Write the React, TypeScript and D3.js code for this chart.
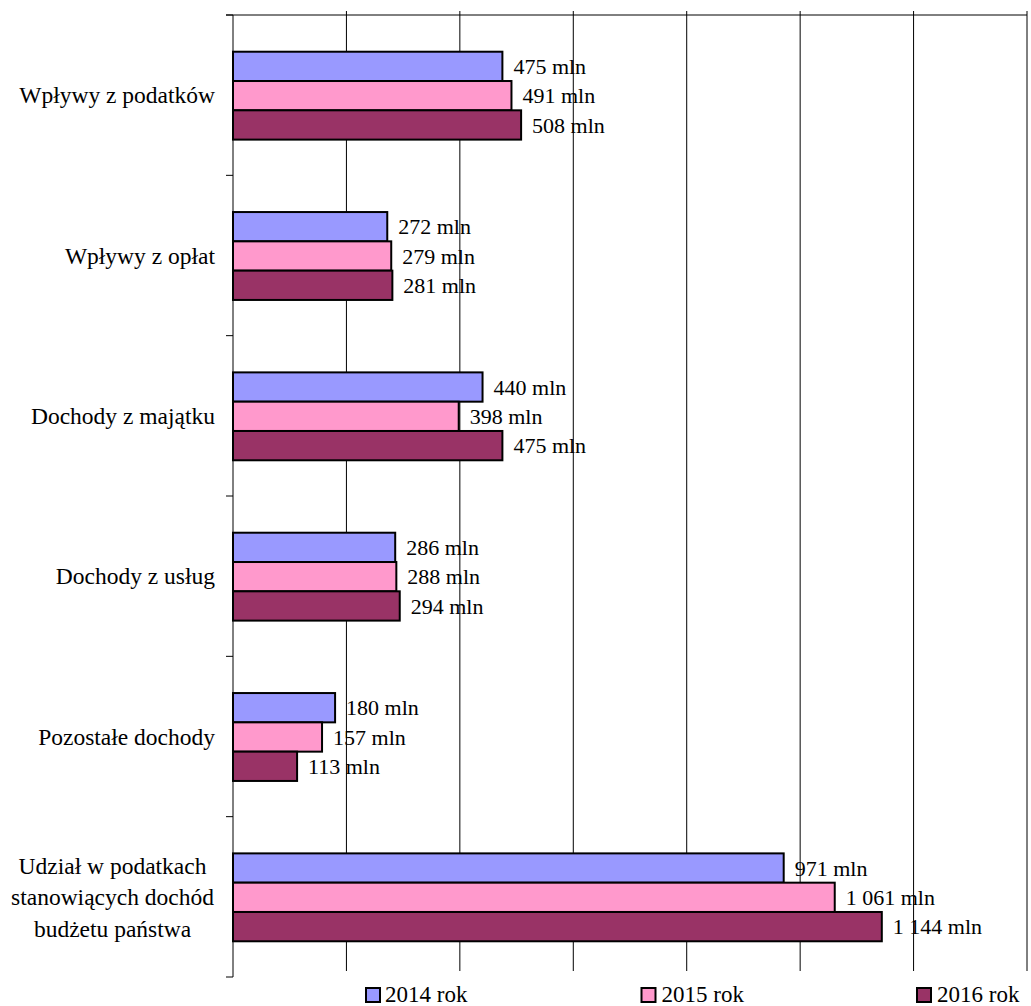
import React, { useEffect, useRef } from "react";
import * as d3 from "d3";

const categories = [
  "Wpływy z podatków",
  "Wpływy z opłat",
  "Dochody z majątku",
  "Dochody z usług",
  "Pozostałe dochody",
  "Udział w podatkach\nstanowiących dochód\nbudżetu państwa",
];
const series = ["2014 rok", "2015 rok", "2016 rok"];
const values2014 = [475, 272, 440, 286, 180, 971];
const values2015 = [491, 279, 398, 288, 157, 1061];
const values2016 = [508, 281, 475, 294, 113, 1144];
const colors = ["#9999ff", "#ff99cc", "#993366"];
const gridTicks = [200, 400, 600, 800, 1000, 1200, 1400];

const fmt = (v: number) => {
  const s = String(v);
  return (s.length > 3 ? s.slice(0, s.length - 3) + " " + s.slice(-3) : s) + " mln";
};

const W = 1031;
const H = 1006;
const font = '"Liberation Serif", "Times New Roman", Times, "DejaVu Serif", serif';

export default function App() {
  const ref = useRef<SVGSVGElement>(null);

  useEffect(() => {
    const svg = d3.select(ref.current);
    svg.selectAll("*").remove();

    const left = 233;
    const right = 1027;
    const top = 15;
    const bottom = 977;

    const x = d3.scaleLinear().domain([0, 1400]).range([left, right]);
    const y = d3.scaleBand().domain(categories).range([top, bottom]).padding(0);
    const all = [values2014, values2015, values2016];

    // grid lines
    svg
      .append("g")
      .selectAll("line")
      .data(gridTicks)
      .join("line")
      .attr("x1", (d) => x(d))
      .attr("x2", (d) => x(d))
      .attr("y1", top - 4)
      .attr("y2", 971)
      .attr("stroke", "#000")
      .attr("stroke-width", 1);

    // top line
    svg
      .append("line")
      .attr("x1", left - 7)
      .attr("x2", right)
      .attr("y1", top)
      .attr("y2", top)
      .attr("stroke", "#000");

    // left axis
    const yAxis = svg.append("g");
    yAxis
      .append("line")
      .attr("x1", left)
      .attr("x2", left)
      .attr("y1", top)
      .attr("y2", bottom)
      .attr("stroke", "#000");
    const edges = categories.map((c) => y(c)!).concat([bottom]);
    yAxis
      .selectAll("line.tick")
      .data(edges)
      .join("line")
      .attr("class", "tick")
      .attr("x1", left - 7)
      .attr("x2", left)
      .attr("y1", (d) => d)
      .attr("y2", (d) => d)
      .attr("stroke", "#000");

    const barH = 29.3;
    const groups = svg
      .append("g")
      .selectAll("g")
      .data(categories)
      .join("g")
      .attr("transform", (c) => `translate(0,${y(c)! + y.bandwidth() / 2 - 1.5 * barH + 0.5})`);

    const inner = d3.scaleBand().domain(series).range([0, 3 * barH]).padding(0);

    groups.each(function (_c, ci) {
      const g = d3.select(this);
      series.forEach((s, si) => {
        const v = all[si][ci];
        g.append("rect")
          .attr("x", left)
          .attr("y", inner(s)!)
          .attr("width", x(v) - left)
          .attr("height", inner.bandwidth())
          .attr("fill", colors[si])
          .attr("stroke", "#000")
          .attr("stroke-width", 2);
        g.append("text")
          .attr("x", x(v) + 11)
          .attr("y", inner(s)! + inner.bandwidth() / 2)
          .attr("dy", "0.35em")
          .style("font-family", font)
          .style("font-size", "22px")
          .attr("fill", "#000")
          .text(fmt(v));
      });
    });

    // category labels
    categories.forEach((c) => {
      const lines = c.split("\n");
      const cy = y(c)! + y.bandwidth() / 2;
      const lh = 31.5;
      const t = svg
        .append("text")
        .style("font-family", font)
        .style("font-size", "23.5px")
        .attr("fill", "#000");
      lines.forEach((ln, i) => {
        t.append("tspan")
          .attr("y", cy + (i - (lines.length - 1) / 2) * lh)
          .attr("dy", "0.35em")
          .text(ln);
      });
      if (lines.length === 1) {
        t.attr("text-anchor", "end").selectAll("tspan").attr("x", 215);
      } else {
        let maxW = 0;
        t.selectAll<SVGTSpanElement, unknown>("tspan").each(function () {
          maxW = Math.max(maxW, this.getComputedTextLength());
        });
        t.attr("text-anchor", "middle").selectAll("tspan").attr("x", 214 - maxW / 2);
      }
    });

    // legend
    const leg = svg
      .append("g")
      .selectAll("g")
      .data(series)
      .join("g")
      .attr("transform", (_d, i) => `translate(${366 + i * 275.5},988)`);
    leg
      .append("rect")
      .attr("width", 14)
      .attr("height", 14)
      .attr("fill", (_d, i) => colors[i])
      .attr("stroke", "#000")
      .attr("stroke-width", 2);
    leg
      .append("text")
      .attr("x", (_d, i) => (i === 0 ? 19 : 20))
      .attr("y", 14)
      .style("font-family", font)
      .style("font-size", "23px")
      .attr("fill", "#000")
      .text((d) => d);
  }, []);

  return (
    <svg
      ref={ref}
      width={W}
      height={H}
      style={{ display: "block", position: "absolute", left: 0, top: 0, background: "#fff" }}
    />
  );
}
